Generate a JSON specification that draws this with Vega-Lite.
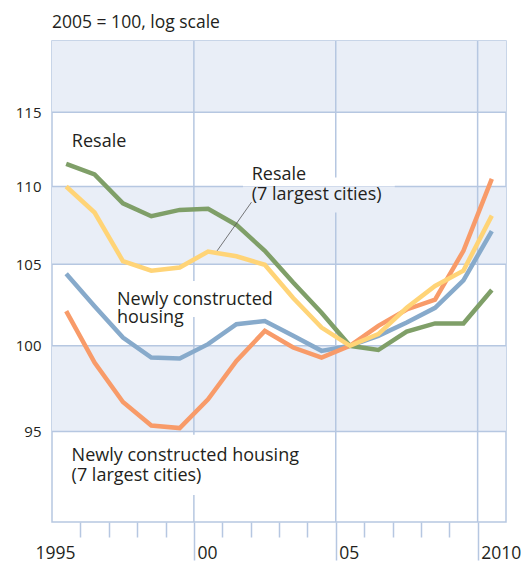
{
  "$schema": "https://vega.github.io/schema/vega-lite/v6.json",
  "width": 454,
  "height": 481,
  "autosize": "none",
  "padding": {"left": 52, "top": 41, "right": 22, "bottom": 39},
  "background": "white",
  "config": {
    "view": {"stroke": "#b6c7e1", "strokeWidth": 1.5},
    "font": "Open Sans",
    "text": {"font": "Open Sans", "fontSize": 18, "color": "#231f20"}
  },
  "title": {
    "text": "2005 = 100, log scale",
    "anchor": "start",
    "frame": "group",
    "baseline": "alphabetic",
    "offset": -5,
    "font": "Open Sans",
    "fontSize": 17.5,
    "fontWeight": "normal",
    "color": "#231f20"
  },
  "datasets": {
    "bands": [
      {"lo": 115, "hi": 120},
      {"lo": 105, "hi": 110},
      {"lo": 95, "hi": 100}
    ],
    "hgrid": [{"v": 95}, {"v": 100}, {"v": 105}, {"v": 110}, {"v": 115}],
    "vgrid": [{"year": 2000}, {"year": 2005}, {"year": 2010}],
    "one": [{}],
    "series": [
      {"series": "Newly constructed housing", "year": 1995.5, "v": 104.4},
      {"series": "Newly constructed housing", "year": 1996.5, "v": 102.4},
      {"series": "Newly constructed housing", "year": 1997.5, "v": 100.5},
      {"series": "Newly constructed housing", "year": 1998.5, "v": 99.3},
      {"series": "Newly constructed housing", "year": 1999.5, "v": 99.25},
      {"series": "Newly constructed housing", "year": 2000.5, "v": 100.1},
      {"series": "Newly constructed housing", "year": 2001.5, "v": 101.3},
      {"series": "Newly constructed housing", "year": 2002.5, "v": 101.5},
      {"series": "Newly constructed housing", "year": 2003.5, "v": 100.6},
      {"series": "Newly constructed housing", "year": 2004.5, "v": 99.7},
      {"series": "Newly constructed housing", "year": 2005.5, "v": 100},
      {"series": "Newly constructed housing", "year": 2006.5, "v": 100.6},
      {"series": "Newly constructed housing", "year": 2007.5, "v": 101.4},
      {"series": "Newly constructed housing", "year": 2008.5, "v": 102.3},
      {"series": "Newly constructed housing", "year": 2009.5, "v": 104.0},
      {"series": "Newly constructed housing", "year": 2010.5, "v": 107.1},
      {"series": "Newly constructed housing (7 largest cities)", "year": 1995.5, "v": 102.1},
      {"series": "Newly constructed housing (7 largest cities)", "year": 1996.5, "v": 99.0},
      {"series": "Newly constructed housing (7 largest cities)", "year": 1997.5, "v": 96.7},
      {"series": "Newly constructed housing (7 largest cities)", "year": 1998.5, "v": 95.35},
      {"series": "Newly constructed housing (7 largest cities)", "year": 1999.5, "v": 95.2},
      {"series": "Newly constructed housing (7 largest cities)", "year": 2000.5, "v": 96.85},
      {"series": "Newly constructed housing (7 largest cities)", "year": 2001.5, "v": 99.1},
      {"series": "Newly constructed housing (7 largest cities)", "year": 2002.5, "v": 100.9},
      {"series": "Newly constructed housing (7 largest cities)", "year": 2003.5, "v": 99.9},
      {"series": "Newly constructed housing (7 largest cities)", "year": 2004.5, "v": 99.3},
      {"series": "Newly constructed housing (7 largest cities)", "year": 2005.5, "v": 100},
      {"series": "Newly constructed housing (7 largest cities)", "year": 2006.5, "v": 101.2},
      {"series": "Newly constructed housing (7 largest cities)", "year": 2007.5, "v": 102.2},
      {"series": "Newly constructed housing (7 largest cities)", "year": 2008.5, "v": 102.8},
      {"series": "Newly constructed housing (7 largest cities)", "year": 2009.5, "v": 105.85},
      {"series": "Newly constructed housing (7 largest cities)", "year": 2010.5, "v": 110.5},
      {"series": "Resale", "year": 1995.5, "v": 111.5},
      {"series": "Resale", "year": 1996.5, "v": 110.8},
      {"series": "Resale", "year": 1997.5, "v": 108.9},
      {"series": "Resale", "year": 1998.5, "v": 108.06},
      {"series": "Resale", "year": 1999.5, "v": 108.47},
      {"series": "Resale", "year": 2000.5, "v": 108.54},
      {"series": "Resale", "year": 2001.5, "v": 107.5},
      {"series": "Resale", "year": 2002.5, "v": 105.85},
      {"series": "Resale", "year": 2003.5, "v": 103.86},
      {"series": "Resale", "year": 2004.5, "v": 102.0},
      {"series": "Resale", "year": 2005.5, "v": 100},
      {"series": "Resale", "year": 2006.5, "v": 99.75},
      {"series": "Resale", "year": 2007.5, "v": 100.85},
      {"series": "Resale", "year": 2008.5, "v": 101.35},
      {"series": "Resale", "year": 2009.5, "v": 101.35},
      {"series": "Resale", "year": 2010.5, "v": 103.4},
      {"series": "Resale (7 largest cities)", "year": 1995.5, "v": 110.0},
      {"series": "Resale (7 largest cities)", "year": 1996.5, "v": 108.3},
      {"series": "Resale (7 largest cities)", "year": 1997.5, "v": 105.2},
      {"series": "Resale (7 largest cities)", "year": 1998.5, "v": 104.6},
      {"series": "Resale (7 largest cities)", "year": 1999.5, "v": 104.8},
      {"series": "Resale (7 largest cities)", "year": 2000.5, "v": 105.8},
      {"series": "Resale (7 largest cities)", "year": 2001.5, "v": 105.5},
      {"series": "Resale (7 largest cities)", "year": 2002.5, "v": 104.97},
      {"series": "Resale (7 largest cities)", "year": 2003.5, "v": 102.9},
      {"series": "Resale (7 largest cities)", "year": 2004.5, "v": 101.1},
      {"series": "Resale (7 largest cities)", "year": 2005.5, "v": 100},
      {"series": "Resale (7 largest cities)", "year": 2006.5, "v": 100.7},
      {"series": "Resale (7 largest cities)", "year": 2007.5, "v": 102.3},
      {"series": "Resale (7 largest cities)", "year": 2008.5, "v": 103.65},
      {"series": "Resale (7 largest cities)", "year": 2009.5, "v": 104.6},
      {"series": "Resale (7 largest cities)", "year": 2010.5, "v": 108.1}
    ]
  },
  "resolve": {"axis": {"x": "independent"}},
  "layer": [
    {
      "data": {"name": "bands"},
      "mark": {"type": "rect", "color": "#e9eef7"},
      "encoding": {
        "y": {
          "field": "lo", "type": "quantitative",
          "scale": {"type": "log", "domain": [90, 120], "nice": false, "zero": false},
          "axis": {
            "values": [95, 100, 105, 110, 115],
            "labelFont": "Open Sans",
            "labelFontSize": 15,
            "labelColor": "#231f20",
            "labelPadding": 11,
            "ticks": false,
            "domain": false,
            "grid": false,
            "title": null
          }
        },
        "y2": {"field": "hi"}
      }
    },
    {
      "data": {"name": "hgrid"},
      "mark": {"type": "rule", "color": "#b6c7e1", "strokeWidth": 1.5},
      "encoding": {
        "y": {"field": "v", "type": "quantitative"}
      }
    },
    {
      "data": {"name": "vgrid"},
      "mark": {"type": "rule", "color": "#b6c7e1", "strokeWidth": 1.5},
      "encoding": {
        "x": {
          "field": "year", "type": "quantitative",
          "scale": {"domain": [1995, 2011], "nice": false, "zero": false},
          "axis": {
            "orient": "bottom",
            "values": [1995, 2000, 2005, 2010],
            "labelExpr": "datum.value == 2000 ? '00' : datum.value == 2005 ? '05' : format(datum.value, 'd')",
            "labelAlign": {"condition": {"test": "datum.value == 1995", "value": "center"}, "value": "left"},
            "labelOffset": 3,
            "labelBaseline": "alphabetic",
            "labelPadding": -2,
            "labelFont": "Open Sans",
            "labelFontSize": 17.5,
            "labelColor": "#231f20",
            "labelFlush": false,
            "labelOverlap": false,
            "tickSize": 38,
            "tickWidth": 1.5,
            "tickColor": {"condition": {"test": "datum.value == 1995", "value": "transparent"}, "value": "#b6c7e1"},
            "domain": false,
            "grid": false,
            "title": null
          }
        }
      }
    },
    {
      "data": {"name": "one"},
      "mark": {"type": "rect", "color": "white"},
      "encoding": {
        "x": {"datum": 2001.73, "type": "quantitative", "axis": null},
        "x2": {"datum": 2007.08},
        "y": {"datum": 110.02, "type": "quantitative"},
        "y2": {"datum": 110.6}
      }
    },
    {
      "data": {"name": "one"},
      "mark": {"type": "rect", "color": "#e9eef7"},
      "encoding": {
        "x": {"datum": 2001.73, "type": "quantitative", "axis": null},
        "x2": {"datum": 2007.08},
        "y": {"datum": 108.3, "type": "quantitative"},
        "y2": {"datum": 109.98}
      }
    },
    {
      "data": {"name": "one"},
      "mark": {"type": "rect", "color": "white"},
      "encoding": {
        "x": {"datum": 1997.2, "type": "quantitative", "axis": null},
        "x2": {"datum": 2002.8},
        "y": {"datum": 101.74, "type": "quantitative"},
        "y2": {"datum": 103.96}
      }
    },
    {
      "data": {"name": "one"},
      "mark": {"type": "rect", "color": "white"},
      "encoding": {
        "x": {"datum": 1995.6, "type": "quantitative", "axis": null},
        "x2": {"datum": 2003.6},
        "y": {"datum": 91.47, "type": "quantitative"},
        "y2": {"datum": 94.82}
      }
    },
    {
      "data": {"name": "series"},
      "mark": {"type": "line", "strokeWidth": 4.5, "strokeCap": "butt", "strokeJoin": "miter"},
      "encoding": {
        "x": {
          "field": "year", "type": "quantitative",
          "axis": {
            "orient": "bottom",
            "values": [1996, 1997, 1998, 1999, 2001, 2002, 2003, 2004, 2006, 2007, 2008, 2009],
            "labels": false,
            "tickSize": 15,
            "tickWidth": 1.5,
            "tickColor": "#b6c7e1",
            "domain": false,
            "grid": false,
            "title": null
          }
        },
        "y": {"field": "v", "type": "quantitative"},
        "color": {
          "field": "series", "type": "nominal", "legend": null,
          "scale": {
            "domain": ["Newly constructed housing", "Newly constructed housing (7 largest cities)", "Resale", "Resale (7 largest cities)"],
            "range": ["#87aacb", "#f89b69", "#7f9f68", "#ffd477"]
          }
        }
      }
    },
    {
      "data": {"name": "one"},
      "mark": {"type": "rule", "color": "#555555", "strokeWidth": 0.8},
      "encoding": {
        "x": {"datum": 2002.03, "type": "quantitative", "axis": null},
        "x2": {"datum": 2000.82},
        "y": {"datum": 108.97, "type": "quantitative"},
        "y2": {"datum": 105.85}
      }
    },
    {
      "data": {"name": "one"},
      "mark": {"type": "text", "align": "left", "baseline": "alphabetic", "text": "Resale"},
      "encoding": {
        "x": {"datum": 1995.7, "type": "quantitative", "axis": null},
        "y": {"datum": 112.6, "type": "quantitative"}
      }
    },
    {
      "data": {"name": "one"},
      "mark": {"type": "text", "align": "left", "baseline": "alphabetic", "lineHeight": 20, "text": ["Resale", "(7 largest cities)"]},
      "encoding": {
        "x": {"datum": 2002.04, "type": "quantitative", "axis": null},
        "y": {"datum": 110.44, "type": "quantitative"}
      }
    },
    {
      "data": {"name": "one"},
      "mark": {"type": "text", "align": "left", "baseline": "alphabetic", "lineHeight": 18, "text": ["Newly constructed", "housing"]},
      "encoding": {
        "x": {"datum": 1997.29, "type": "quantitative", "axis": null},
        "y": {"datum": 102.5, "type": "quantitative"}
      }
    },
    {
      "data": {"name": "one"},
      "mark": {"type": "text", "align": "left", "baseline": "alphabetic", "lineHeight": 20, "text": ["Newly constructed housing", "(7 largest cities)"]},
      "encoding": {
        "x": {"datum": 1995.69, "type": "quantitative", "axis": null},
        "y": {"datum": 93.36, "type": "quantitative"}
      }
    }
  ]
}
